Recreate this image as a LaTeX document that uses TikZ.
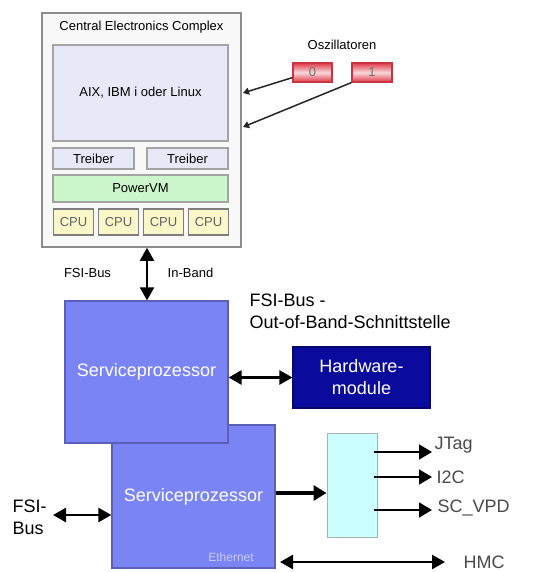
\documentclass[tikz,border=0pt]{standalone}
\usepackage{fontspec}
\setmainfont{Liberation Sans}
\usetikzlibrary{arrows.meta}
\definecolor{cecfill}{HTML}{F8F8F8}
\definecolor{cecline}{HTML}{8C8C8C}
\definecolor{osfill}{HTML}{E8E8F8}
\definecolor{vmfill}{HTML}{CCF7CC}
\definecolor{cpufill}{HTML}{FAF8C8}
\definecolor{spfill}{HTML}{7A84F4}
\definecolor{spline}{HTML}{5A60B8}
\definecolor{hwfill}{HTML}{0A0A9C}
\definecolor{muxfill}{HTML}{CCFFFF}
\definecolor{oscred}{HTML}{E03A4A}
\definecolor{ethtext}{HTML}{C8CCF8}
\definecolor{sigtext}{HTML}{4A4A4A}
\tikzset{
  small/.style={font=\fontsize{13}{15}\selectfont},
  big/.style={font=\fontsize{18}{22}\selectfont},
  blk/.style={draw, rectangle, inner sep=0pt, line width=1.2pt},
  cecbox/.style={blk, fill=cecfill, draw=cecline, line width=1.5pt},
  inner/.style={blk, fill=osfill, draw=cecline!80},
  cpubox/.style={blk, fill=cpufill, draw=cecline!90!black, minimum width=40pt, minimum height=26pt, small, text=cecline!70!black},
  oscbox/.style={blk, draw=oscred!90!black, top color=oscred, bottom color=oscred, middle color=oscred!20, minimum height=19pt, small, text=black!55},
  spbox/.style={blk, fill=spfill, draw=spline, minimum width=163pt, big, text=white},
  tip/.style={-{Triangle[width=15pt,length=13pt]}},
  dtip/.style={{Triangle[width=14pt,length=13pt]}-{Triangle[width=14pt,length=13pt]}},
  bus/.style={line width=2.5pt},
  osclink/.style={line width=1.5pt, black!85, -{Triangle[width=7pt,length=6pt]}},
}
\begin{document}
\begin{tikzpicture}[x=1pt,y=-1pt]
\useasboundingbox (0,0) rectangle (534,572);
\fill[white] (0,0) rectangle (534,572);

% Central Electronics Complex
\node[cecbox, minimum width=199pt, minimum height=234pt] (cec) at (141.5,130) {};
\node[small] (cectitle) at (141.5,27) {Central Electronics Complex};
\node[inner, minimum width=175pt, minimum height=96pt, small] (os) at (140.5,93) {AIX, IBM i oder Linux};
\node[inner, minimum width=81pt, minimum height=21pt, small] (drv1) at (93.5,158.5) {Treiber};
\node[inner, minimum width=81pt, minimum height=21pt, small] (drv2) at (187.5,158.5) {Treiber};
\node[blk, fill=vmfill, draw=cecline!80, minimum width=175pt, minimum height=27pt, small] (vm) at (140.5,188.5) {PowerVM};
\node[cpubox] (cpu1) at (73.5,222) {CPU};
\node[cpubox] (cpu2) at (118.5,222) {CPU};
\node[cpubox] (cpu3) at (163.5,222) {CPU};
\node[cpubox] (cpu4) at (208.5,222) {CPU};

% Oscillators
\node[small] (osclabel) at (342,45) {Oszillatoren};
\node[oscbox, minimum width=39pt] (osc0) at (312.5,72.5) {0};
\node[oscbox, minimum width=40pt] (osc1) at (372,72.5) {1};
\coordinate (clk0) at (243,93);
\coordinate (clk1) at (243,127);
\draw[osclink] (osc0.south west) ++(0,-5) -- (clk0);
\draw[osclink] (osc1.south west) -- (clk1);

% Service processors (the upper one lies in front)
\node[spbox, minimum height=143pt] (sp2) at (193.5,496.5) {Serviceprozessor};
\node[font=\fontsize{12}{14}\selectfont, text=ethtext] (eth) at (231,557) {Ethernet};
\node[spbox, minimum height=142pt] (sp1) at (146.5,372) {Serviceprozessor};

% In-band FSI bus
\draw[line width=2pt, dtip] (cec.south -| 147,0) -- (sp1.north -| 147,0);
\node[small] (fsi1) at (87.5,273) {FSI-Bus};
\node[small] (inband) at (190.5,273) {In-Band};
\node[big, anchor=west, align=left] (oob) at (246,311) {FSI-Bus -\\Out-of-Band-Schnittstelle};

% Hardware modules
\node[blk, fill=hwfill, draw=hwfill!70!black, minimum width=137pt, minimum height=61pt, big, text=white, align=center] (hw) at (361.5,377.5) {Hardware-\\module};
\draw[bus, dtip] (sp1.east |- hw.west) -- (hw.west);

% External FSI bus
\node[big, anchor=west, align=left] (fsi2) at (9,517.5) {FSI-\\Bus};
\coordinate (fsiend) at (53,515);
\draw[bus, dtip] (fsiend) -- (fsiend -| sp2.west);

% Signal multiplexer
\node[blk, fill=muxfill, draw=cecline!70, line width=1pt, minimum width=50pt, minimum height=104pt] (mux) at (352,485) {};
\draw[line width=3.5pt, tip] (sp2.east |- 0,493) -- (mux.west |- 0,493);
\coordinate (jt) at (432,452);
\coordinate (ic) at (432,477);
\coordinate (vpd) at (432,510);
\draw[line width=1.5pt, tip] (mux.east |- jt) ++(-4,0) -- (jt);
\draw[line width=1.5pt, tip] (mux.east |- ic) ++(-4,0) -- (ic);
\draw[line width=1.5pt, tip] (mux.east |- vpd) ++(-4,0) -- (vpd);
\node[big, text=sigtext, anchor=west] (jtag) at (431,445) {JTag};
\node[big, text=sigtext, anchor=west] (i2c) at (433,477) {I2C};
\node[big, text=sigtext, anchor=west] (scvpd) at (434,508) {SC\_VPD};

% HMC link
\coordinate (hmcend) at (445,562);
\draw[bus, dtip] (280,562) -- (hmcend);
\node[big, text=sigtext, anchor=west] (hmc) at (460,562) {HMC};
\end{tikzpicture}
\end{document}
